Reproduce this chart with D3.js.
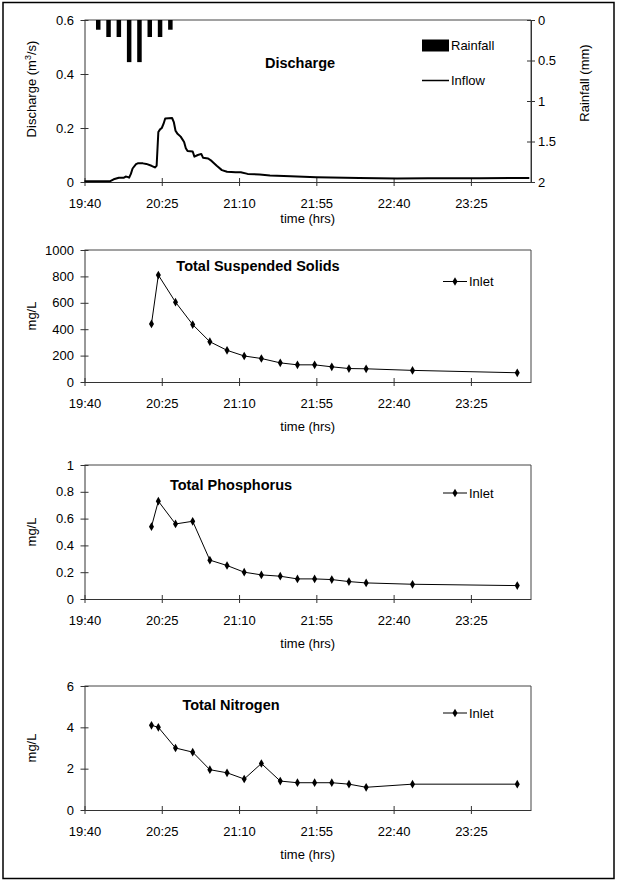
<!DOCTYPE html>
<html>
<head>
<meta charset="utf-8">
<script src="https://cdn.jsdelivr.net/npm/d3@7"></script>
<style>
  body { margin: 0; background: #fff; }
  svg { display: block; font-family: "Liberation Sans", Arial, sans-serif; }
  .axis text { font-size: 13px; fill: #000; }
  .axis path, .axis line { stroke: #333; }
</style>
</head>
<body>
<svg id="chart"></svg>
<script>
const W = 619, H = 881;

// shared time ticks
const timeTicks = ["19:40", "20:25", "21:10", "21:55", "22:40", "23:25"];

// rainfall (mm), bars hanging from the top
const rainTimes = ["19:48", "19:54", "20:00", "20:06", "20:12", "20:18", "20:24", "20:30"];
const rainValues = [0.12, 0.21, 0.21, 0.52, 0.52, 0.21, 0.21, 0.12];

// inflow discharge (m3/s)
const flowTimes = ["19:40", "19:50", "19:55", "19:57", "20:00", "20:03", "20:04", "20:05", "20:06", "20:07",
  "20:08", "20:10", "20:11", "20:14", "20:16", "20:19", "20:21", "20:22", "20:23", "20:24",
  "20:25", "20:26", "20:27", "20:31", "20:32", "20:33", "20:34", "20:36", "20:38", "20:39",
  "20:40", "20:43", "20:44", "20:46", "20:48", "20:49", "20:52", "20:54", "20:57", "21:00",
  "21:03", "21:08", "21:11", "21:15", "21:22", "21:28", "21:40", "21:55", "22:20", "22:42",
  "23:00", "23:30", "23:59"];
const flowValues = [0.003, 0.003, 0.003, 0.010, 0.016, 0.016, 0.020, 0.019, 0.016, 0.030,
  0.050, 0.066, 0.069, 0.069, 0.067, 0.060, 0.054, 0.060, 0.185, 0.195,
  0.200, 0.215, 0.235, 0.237, 0.222, 0.190, 0.180, 0.168, 0.148, 0.125,
  0.115, 0.113, 0.094, 0.100, 0.104, 0.090, 0.087, 0.078, 0.060, 0.044,
  0.038, 0.036, 0.036, 0.030, 0.028, 0.024, 0.021, 0.018, 0.015, 0.013,
  0.014, 0.014, 0.015];

// inlet samples
const sampleTimes = ["20:19", "20:23", "20:33", "20:43", "20:53", "21:03", "21:13", "21:23",
  "21:34", "21:44", "21:54", "22:04", "22:14", "22:24", "22:51", "23:52"];
const tssValues = [440, 810, 605, 435, 305, 240, 197, 178, 145, 130, 130, 115, 102, 100, 88, 70];
const tpValues = [0.54, 0.73, 0.56, 0.58, 0.29, 0.25, 0.20, 0.18, 0.17, 0.15, 0.15, 0.145, 0.13, 0.12, 0.11, 0.10];
const tnValues = [4.1, 4.0, 3.0, 2.8, 1.95, 1.8, 1.5, 2.25, 1.4, 1.32, 1.32, 1.32, 1.25, 1.1, 1.25, 1.25];

const parseTime = d3.timeParse("%H:%M");
const fmtTime = d3.timeFormat("%H:%M");

const svg = d3.select("#chart").attr("width", W).attr("height", H);

// outer frame
svg.append("rect")
  .attr("x", 3).attr("y", 2.5)
  .attr("width", 611).attr("height", 876)
  .attr("fill", "none").attr("stroke", "#000").attr("stroke-width", 1.5);

const x = d3.scaleTime()
  .domain([parseTime("19:40"), d3.timeMinute.offset(parseTime("23:00"), 60)])
  .range([84.5, 531]);

function crossTicks(g, horizontal) {
  g.selectAll(".tick line")
    .attr(horizontal ? "y1" : "x1", -4)
    .attr(horizontal ? "y2" : "x2", 4);
}

function drawFrame(top, bottom, y, yTicks, yFmt, label, timeDy) {
  // plot area border (top + right)
  svg.append("path")
    .attr("d", `M${x.range()[0]},${top}H${x.range()[1]}V${bottom}`)
    .attr("fill", "none").attr("stroke", "#444").attr("stroke-width", 1);

  const gx = svg.append("g")
    .attr("class", "axis")
    .attr("transform", `translate(0,${bottom})`)
    .call(d3.axisBottom(x)
      .tickValues(timeTicks.map(parseTime))
      .tickFormat(fmtTime)
      .tickSizeOuter(0)
      .tickSizeInner(4));
  crossTicks(gx, true);
  gx.selectAll("text").attr("dy", null).attr("y", 25.5);

  const gy = svg.append("g")
    .attr("class", "axis")
    .attr("transform", `translate(${x.range()[0]},0)`)
    .call(d3.axisLeft(y).tickValues(yTicks).tickFormat(yFmt).tickSizeOuter(0).tickSizeInner(4).tickPadding(6.5));
  crossTicks(gy, false);

  svg.append("text")
    .attr("transform", `translate(${label.x},${label.cy}) rotate(-90)`)
    .attr("text-anchor", "middle")
    .attr("font-size", 13)
    .html(label.text);

  svg.append("text")
    .attr("x", (x.range()[0] + x.range()[1]) / 2)
    .attr("y", bottom + timeDy)
    .attr("text-anchor", "middle")
    .attr("font-size", 13)
    .text("time (hrs)");
}

// ---------- Panel 1: discharge + rainfall ----------
{
  const top = 20, bottom = 182;
  const y = d3.scaleLinear().domain([0, 0.6]).range([bottom, top]);
  const yRain = d3.scaleLinear().domain([0, 2]).range([top, bottom]);

  drawFrame(top, bottom, y, [0, 0.2, 0.4, 0.6], d => d === 0 ? "0" : d3.format(".1f")(d),
    { x: 36, cy: 89, text: 'Discharge (m<tspan dy="-5" font-size="9">3</tspan><tspan dy="5">/s)</tspan>' }, 41);

  const gr = svg.append("g")
    .attr("class", "axis")
    .attr("transform", `translate(${x.range()[1]},0)`)
    .call(d3.axisRight(yRain).tickValues([0, 0.5, 1, 1.5, 2]).tickFormat(d3.format("")).tickSizeOuter(0).tickSizeInner(4).tickPadding(3));
  crossTicks(gr, false);

  svg.append("text")
    .attr("transform", `translate(589,83) rotate(-90)`)
    .attr("text-anchor", "middle")
    .attr("font-size", 13)
    .text("Rainfall (mm)");

  const barW = 4.5;
  svg.selectAll(".rain")
    .data(rainTimes.map((t, i) => ({ t: parseTime(t), v: rainValues[i] })))
    .join("rect")
    .attr("class", "rain")
    .attr("x", d => x(d.t) - barW / 2)
    .attr("y", yRain(0))
    .attr("width", barW)
    .attr("height", d => yRain(d.v) - yRain(0))
    .attr("fill", "#000");

  const flow = flowTimes.map((t, i) => ({ t: parseTime(t), v: flowValues[i] }));
  svg.append("path")
    .datum(flow)
    .attr("fill", "none")
    .attr("stroke", "#000")
    .attr("stroke-width", 2)
    .attr("stroke-linejoin", "round")
    .attr("d", d3.line().x(d => x(d.t)).y(d => y(d.v)));

  svg.append("text")
    .attr("x", 300).attr("y", 68)
    .attr("text-anchor", "middle")
    .attr("font-size", 14.5).attr("font-weight", "bold")
    .text("Discharge");

  // legend
  svg.append("rect").attr("x", 422).attr("y", 39.5).attr("width", 27).attr("height", 12).attr("fill", "#000");
  svg.append("text").attr("x", 451).attr("y", 50).attr("font-size", 13).text("Rainfall");
  svg.append("line").attr("x1", 422).attr("x2", 449).attr("y1", 80.5).attr("y2", 80.5)
    .attr("stroke", "#000").attr("stroke-width", 1.5);
  svg.append("text").attr("x", 451).attr("y", 85).attr("font-size", 13).text("Inflow");
}

// ---------- Sample panels ----------
const diamond = d3.symbol().type(d3.symbolDiamond).size(22);

function samplePanel(cfg) {
  const y = d3.scaleLinear().domain(cfg.domain).range([cfg.bottom, cfg.top]);
  drawFrame(cfg.top, cfg.bottom, y, cfg.ticks, cfg.fmt,
    { x: 36, cy: (cfg.top + cfg.bottom) / 2, text: "mg/L" }, 49);

  const pts = sampleTimes.map((t, i) => ({ t: parseTime(t), v: cfg.values[i] }));
  svg.append("path")
    .datum(pts)
    .attr("fill", "none")
    .attr("stroke", "#000")
    .attr("stroke-width", 1)
    .attr("d", d3.line().x(d => x(d.t)).y(d => y(d.v)));

  svg.append("g").selectAll("path")
    .data(pts)
    .join("path")
    .attr("transform", d => `translate(${x(d.t)},${y(d.v)})`)
    .attr("d", diamond)
    .attr("fill", "#000");

  svg.append("text")
    .attr("x", cfg.titleX).attr("y", cfg.top + cfg.titleDy)
    .attr("text-anchor", "middle")
    .attr("font-size", 14.5).attr("font-weight", "bold")
    .text(cfg.title);

  const ly = cfg.top + cfg.legendDy;
  svg.append("line").attr("x1", 443).attr("x2", 467).attr("y1", ly).attr("y2", ly)
    .attr("stroke", "#000").attr("stroke-width", 1);
  svg.append("path").attr("transform", `translate(455,${ly})`).attr("d", diamond).attr("fill", "#000");
  svg.append("text").attr("x", 469).attr("y", ly + 4.5).attr("font-size", 13).text("Inlet");
}

samplePanel({
  top: 250, bottom: 382, domain: [0, 1000], ticks: [0, 200, 400, 600, 800, 1000], fmt: d3.format("d"),
  values: tssValues, title: "Total Suspended Solids", titleX: 258, titleDy: 21, legendDy: 31.5
});
samplePanel({
  top: 465, bottom: 599, domain: [0, 1], ticks: [0, 0.2, 0.4, 0.6, 0.8, 1], fmt: d => d === 0 || d === 1 ? String(d) : d3.format(".1f")(d),
  values: tpValues, title: "Total Phosphorus", titleX: 231, titleDy: 25, legendDy: 28
});
samplePanel({
  top: 686, bottom: 810, domain: [0, 6], ticks: [0, 2, 4, 6], fmt: d3.format("d"),
  values: tnValues, title: "Total Nitrogen", titleX: 231, titleDy: 24, legendDy: 27
});
</script>
</body>
</html>
